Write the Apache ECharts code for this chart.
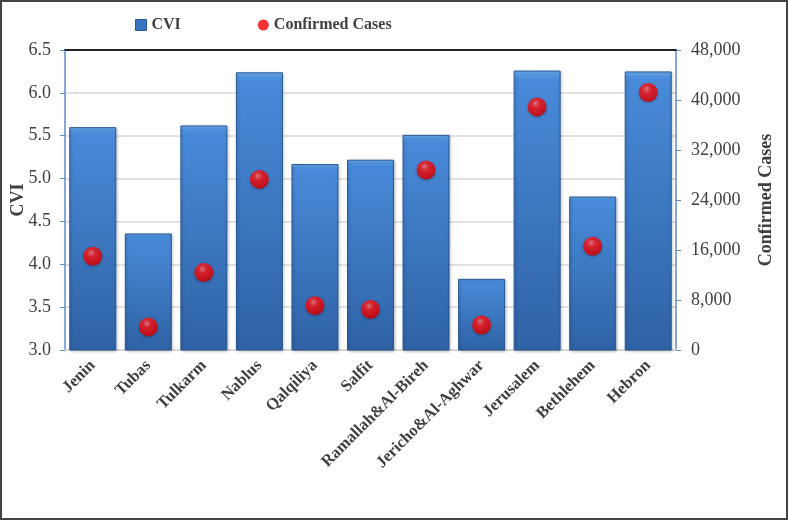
<!DOCTYPE html>
<html><head><meta charset="utf-8">
<script src="https://cdn.jsdelivr.net/npm/echarts@6/dist/echarts.min.js"></script>
<style>html,body{margin:0;padding:0;background:#fff}#c{width:790px;height:520px;position:absolute;left:0;top:0}#b{position:absolute;left:0;top:0;width:788px;height:520px;box-sizing:border-box;border:2px solid #444;pointer-events:none}</style>
</head><body><div id="c"></div><div id="b"></div>
<script>
const categories = ['Jenin','Tubas','Tulkarm','Nablus','Qalqiliya','Salfit','Ramallah&Al-Bireh','Jericho&Al-Aghwar','Jerusalem','Bethlehem','Hebron'];
const cviValues = [5.60, 4.36, 5.62, 6.24, 5.17, 5.22, 5.51, 3.83, 6.26, 4.79, 6.25];
const confirmedCases = [15000, 3700, 12400, 27300, 7100, 6500, 28800, 4000, 38900, 16600, 41200];
const cviTicks = {min: 3.0, max: 6.5, interval: 0.5};
const caseTicks = {min: 0, max: 48000, interval: 8000};

const font = 'Liberation Serif';
const chart = echarts.init(document.getElementById('c'), null, {renderer: 'canvas'});
chart.setOption({
  animation: false,
  textStyle: {fontFamily: font},
  legend: {
    top: 17, left: 135, padding: 0, itemGap: 77, itemWidth: 11, itemHeight: 11,
    textStyle: {fontFamily: font, fontSize: 16, fontWeight: 'bold', color: '#404040'},
    data: [
      {name: 'CVI', icon: 'rect', itemStyle: {color: '#3a75c0', borderColor: '#2a5896', borderWidth: 1}},
      {name: 'Confirmed Cases', icon: 'circle', itemStyle: {color: '#f00000'}}
    ]
  },
  grid: {left: 65, right: 114, top: 50, bottom: 170, outerBoundsMode: 'none', containLabel: false},
  xAxis: [{
    type: 'category', data: categories,
    axisLine: {lineStyle: {color: '#d9d9d9', width: 2}},
    axisTick: {show: false},
    axisLabel: {rotate: 45, interval: 0, fontFamily: font, fontSize: 16.5, fontWeight: 'bold', color: '#404040', margin: 13}
  }, {
    type: 'category', data: categories, position: 'top',
    axisLine: {lineStyle: {color: '#222', width: 2}},
    axisTick: {show: false}, axisLabel: {show: false}
  }],
  yAxis: [{
    type: 'value', min: cviTicks.min, max: cviTicks.max, interval: cviTicks.interval,
    name: 'CVI', nameLocation: 'middle', nameGap: 38, nameMoveOverlap: false,
    nameTextStyle: {fontFamily: font, fontSize: 18, fontWeight: 'bold', color: '#404040'},
    axisLine: {show: true, lineStyle: {color: '#5b8cc8', width: 1.5}},
    axisTick: {show: true, length: 5, lineStyle: {color: '#5b8cc8'}},
    axisLabel: {fontFamily: font, fontSize: 18, color: '#404040', margin: 14, formatter: v => v.toFixed(1)},
    splitLine: {lineStyle: {color: '#d9d9d9', width: 1.5}}
  }, {
    type: 'value', min: caseTicks.min, max: caseTicks.max, interval: caseTicks.interval, position: 'right',
    name: 'Confirmed Cases', nameLocation: 'middle', nameGap: 81, nameMoveOverlap: false,
    nameTextStyle: {fontFamily: font, fontSize: 18, fontWeight: 'bold', color: '#404040'},
    axisLine: {show: true, lineStyle: {color: '#5b8cc8', width: 1.5}},
    axisTick: {show: true, length: 5, lineStyle: {color: '#5b8cc8'}},
    axisLabel: {fontFamily: font, fontSize: 18, color: '#404040', margin: 15, formatter: v => v.toLocaleString('en-US')},
    splitLine: {show: false}
  }],
  series: [{
    name: 'CVI', type: 'bar', data: cviValues, barWidth: 47,
    itemStyle: {
      color: new echarts.graphic.LinearGradient(0, 0, 0, 1, [
        {offset: 0, color: '#76b4f5'}, {offset: 0.018, color: '#5093e0'},
        {offset: 0.035, color: '#488ad9'}, {offset: 1, color: '#2f62a5'}
      ]),
      borderColor: '#2a5896', borderWidth: 1,
      shadowColor: 'rgba(0,0,0,0.25)', shadowBlur: 3, shadowOffsetX: 1, shadowOffsetY: 1
    }
  }, {
    name: 'Confirmed Cases', type: 'scatter', yAxisIndex: 1, data: confirmedCases,
    symbol: 'circle', symbolSize: 19, z: 5,
    itemStyle: {
      color: new echarts.graphic.RadialGradient(0.42, 0.32, 0.72, [
        {offset: 0, color: '#ff7a7a'}, {offset: 0.3, color: '#ff1414'}, {offset: 0.8, color: '#e60000'}, {offset: 1, color: '#b40000'}
      ]),
      shadowColor: 'rgba(0,0,0,0.3)', shadowBlur: 3, shadowOffsetY: 1
    }
  }]
});
</script></body></html>
